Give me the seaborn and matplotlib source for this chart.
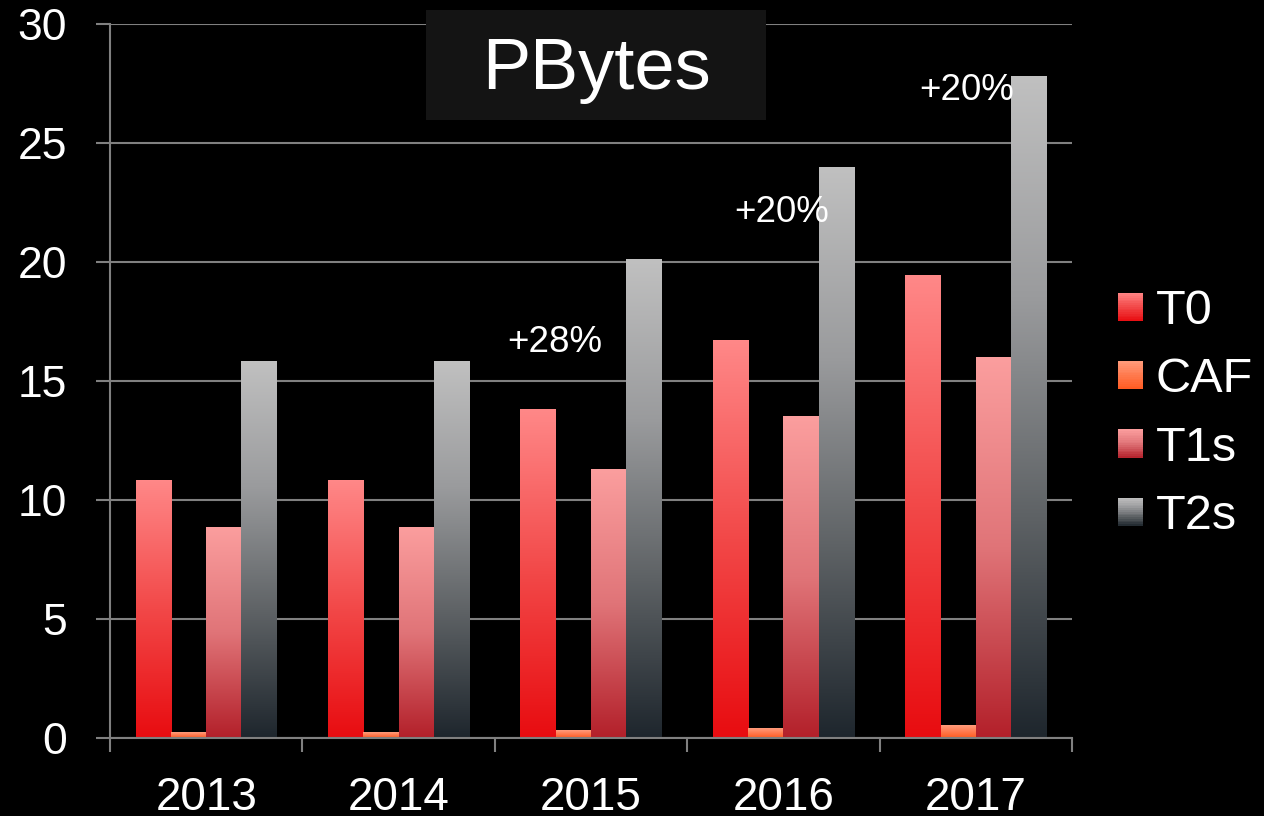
import numpy as np
import pandas as pd
import matplotlib
matplotlib.use("Agg")
import matplotlib.pyplot as plt
import seaborn as sns
from matplotlib.colors import LinearSegmentedColormap
from matplotlib.legend_handler import HandlerBase
from matplotlib.patches import Rectangle, Patch

# data
years = ["2013", "2014", "2015", "2016", "2017"]
series = ["T0", "CAF", "T1s", "T2s"]
t0 = [10.8, 10.8, 13.8, 16.7, 19.45]
caf = [0.25, 0.25, 0.3, 0.4, 0.52]
t1s = [8.86, 8.86, 11.3, 13.5, 16.0]
t2s = [15.8, 15.8, 20.1, 23.95, 27.8]
notes = ["+28%", "+20%", "+20%"]
note_x = [1.81, 2.99, 3.95]
note_y = [16.6, 22.1, 27.2]

df = pd.DataFrame({
    "year": years * 4,
    "series": np.repeat(series, len(years)),
    "value": t0 + caf + t1s + t2s,
})

# gradient colours, bottom -> top
grads = {
    "T0": ["#e80c10", "#f24848", "#ff8888"],
    "CAF": ["#ff5a20", "#ff7a4e", "#ff9c7c"],
    "T1s": ["#b3202a", "#e07478", "#fb9e9e"],
    "T2s": ["#1e262d", "#5e6265", "#9a9b9d", "#c0c0c0"],
}
cmaps = {k: LinearSegmentedColormap.from_list(k, v) for k, v in grads.items()}
solid = {k: v[1] for k, v in grads.items()}

sns.set_style("dark")
plt.rcParams["font.family"] = ["Liberation Sans", "DejaVu Sans"]

fig = plt.figure(figsize=(12.64, 8.16), dpi=100, facecolor="black")
ax = fig.add_axes([110/1264, 1-738/816, 962/1264, 714/816])
ax.set_facecolor("black")

sns.barplot(data=df, x="year", y="value", hue="series", palette=solid,
            width=0.733, ax=ax, legend=False, saturation=1, zorder=2)

# replace flat fills by vertical gradients
grad = np.linspace(0, 1, 256).reshape(-1, 1)
for name, cont in zip(series, ax.containers):
    for bar in cont:
        x0, y0 = bar.get_x(), bar.get_y()
        w, h = bar.get_width(), bar.get_height()
        bar.set_facecolor("none")
        bar.set_edgecolor("none")
        ax.imshow(grad, extent=[x0, x0 + w, y0, y0 + h], origin="lower",
                  aspect="auto", cmap=cmaps[name], zorder=2)

ax.set_xlim(-0.5, 4.5)
ax.set_ylim(0, 30)
ax.set_yticks(np.arange(0, 31, 5))
ax.yaxis.grid(True, color="#808080", linewidth=1.5, zorder=0)
ax.xaxis.grid(False)
ax.set_axisbelow(True)
ax.set_xlabel("")
ax.set_ylabel("")

for s in ["top", "right"]:
    ax.spines[s].set_visible(False)
for s in ["left", "bottom"]:
    ax.spines[s].set_visible(True)
    ax.spines[s].set_color("#808080")
    ax.spines[s].set_linewidth(1.5)

ax.set_xticks(np.arange(-0.5, 5, 1), minor=True)
ax.tick_params(axis="x", which="minor", bottom=True, length=10, width=1.5,
               color="#808080", direction="out")
ax.tick_params(axis="x", which="major", bottom=True, length=0, labelsize=33,
               labelcolor="white", pad=27)
ax.tick_params(axis="y", left=True, length=10, width=1.5, color="#808080", direction="out",
               labelsize=32, labelcolor="white", pad=21)

for t, x, y in zip(notes, note_x, note_y):
    ax.text(x, y, t, color="white", fontsize=26.5, ha="center", va="center", zorder=5)

# title box
fig.patches.append(Rectangle((426/1264, 1-120/816), 340/1264, 110/816,
                             transform=fig.transFigure, facecolor="#141414",
                             edgecolor="none", zorder=3))
fig.text(597/1264, 1-70/816, "PBytes", color="white", fontsize=52,
         ha="center", va="center", zorder=4)


class GradHandler(HandlerBase):
    def __init__(self, cmap):
        super().__init__()
        self.cmap = cmap

    def create_artists(self, legend, orig_handle, xdescent, ydescent,
                       width, height, fontsize, trans):
        n = 16
        out = []
        for i in range(n):
            r = Rectangle((-xdescent, -ydescent + height * i / n), width, height / n * 1.05,
                          facecolor=self.cmap((i + 0.5) / n), edgecolor="none",
                          transform=trans)
            out.append(r)
        return out


handles = [Patch(label=s) for s in series]
hmap = {h: GradHandler(cmaps[s]) for h, s in zip(handles, series)}
fig.legend(handles=handles, labels=series, handler_map=hmap,
           loc="upper left", bbox_to_anchor=(1118/1264, 1-289/816),
           frameon=False, fontsize=35, labelcolor="white",
           handlelength=0.52, handleheight=0.52, handletextpad=0.25,
           labelspacing=0.48, borderpad=0, borderaxespad=0)

fig.savefig("out.png", dpi=100, facecolor="black")
